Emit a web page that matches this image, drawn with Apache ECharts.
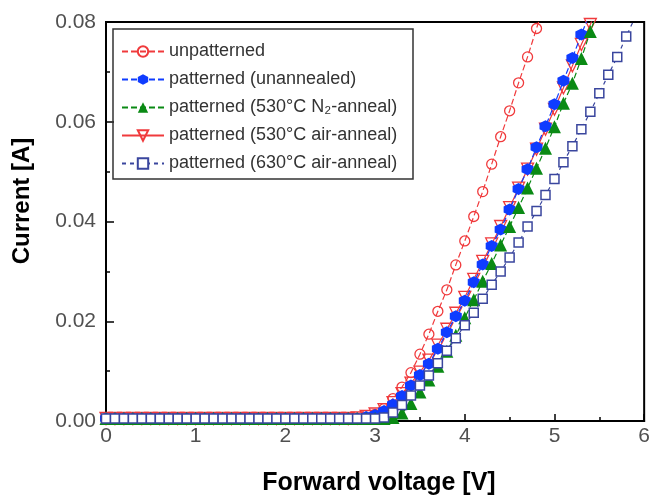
<!DOCTYPE html>
<html>
<head>
<meta charset="utf-8">
<script src="https://cdn.jsdelivr.net/npm/echarts@6/dist/echarts.min.js"></script>
<style>
html,body{margin:0;padding:0;background:#fff;}
#chart{width:653px;height:498px;}
</style>
</head>
<body>
<div id="chart"></div>
<script>
// ---- data ----
const volts = [0.0,0.1,0.2,0.3,0.4,0.5,0.6,0.7,0.8,0.9,
               1.0,1.1,1.2,1.3,1.4,1.5,1.6,1.7,1.8,1.9,
               2.0,2.1,2.2,2.3,2.4,2.5,2.6,2.7,2.8,2.9,
               3.0,3.1,3.2,3.3,3.4,3.5,3.6,3.7,3.8,3.9,
               4.0,4.1,4.2,4.3,4.4,4.5,4.6,4.7,4.8,4.9,
               5.0,5.1,5.2,5.3,5.4,5.5,5.6,5.7,5.8,5.9];

const seriesNames = ['unpatterned','patterned (unannealed)','patterned (530°C N₂-anneal)','patterned (530°C air-anneal)','patterned (630°C air-anneal)'];

const unpatterned = [0.0005,0.0005,0.0005,0.0005,0.0005,0.0005,0.0005,0.0005,0.0005,0.0005,
                     0.0005,0.0005,0.0005,0.0005,0.0005,0.0005,0.0005,0.0005,0.0005,0.0005,
                     0.0005,0.0005,0.0005,0.0005,0.0005,0.0005,0.0005,0.0005,0.0005,0.0007,
                     0.0013,0.0025,0.0045,0.0068,0.0097,0.0134,0.0174,0.0220,0.0263,0.0313,
                     0.0361,0.0410,0.0460,0.0515,0.0570,0.0622,0.0678,0.0730,0.0787,0.0845,
                     null,null,null,null,null,null,null,null,null,null];

const unannealed = [0.0005,0.0005,0.0005,0.0005,0.0005,0.0005,0.0005,0.0005,0.0005,0.0005,
                    0.0005,0.0005,0.0005,0.0005,0.0005,0.0005,0.0005,0.0005,0.0005,0.0005,
                    0.0005,0.0005,0.0005,0.0005,0.0005,0.0005,0.0005,0.0005,0.0005,0.0008,
                    0.0012,0.0020,0.0033,0.0050,0.0071,0.0092,0.0115,0.0145,0.0178,0.0210,
                    0.0241,0.0278,0.0314,0.0351,0.0384,0.0424,0.0465,0.0505,0.0549,0.0591,
                    0.0635,0.0682,0.0728,0.0775,0.0820,null,null,null,null,null];

const n2Anneal = [0.0005,0.0005,0.0005,0.0005,0.0005,0.0005,0.0005,0.0005,0.0005,0.0005,
                  0.0005,0.0005,0.0005,0.0005,0.0005,0.0005,0.0005,0.0005,0.0005,0.0005,
                  0.0005,0.0005,0.0005,0.0005,0.0005,0.0005,0.0005,0.0005,0.0005,0.0005,
                  0.0005,0.0005,0.0007,0.0016,0.0035,0.0058,0.0082,0.0110,0.0140,0.0172,
                  0.0207,0.0243,0.0280,0.0316,0.0353,0.0390,0.0428,0.0467,0.0507,0.0547,
                  0.0590,0.0637,0.0677,0.0727,0.0781,0.0830,null,null,null,null];

const air530 = [0.0005,0.0005,0.0005,0.0005,0.0005,0.0005,0.0005,0.0005,0.0005,0.0005,
                0.0005,0.0005,0.0005,0.0005,0.0005,0.0005,0.0005,0.0005,0.0005,0.0005,
                0.0005,0.0005,0.0005,0.0005,0.0005,0.0005,0.0005,0.0005,0.0006,0.0009,
                0.0014,0.0023,0.0037,0.0055,0.0076,0.0098,0.0122,0.0152,0.0184,0.0216,
                0.0248,0.0284,0.0320,0.0355,0.0390,0.0428,0.0467,0.0505,0.0545,0.0585,
                0.0625,0.0668,0.0712,0.0755,0.0795,0.0840,null,null,null,null];

const air630 = [0.0005,0.0005,0.0005,0.0005,0.0005,0.0005,0.0005,0.0005,0.0005,0.0005,
                0.0005,0.0005,0.0005,0.0005,0.0005,0.0005,0.0005,0.0005,0.0005,0.0005,
                0.0005,0.0005,0.0005,0.0005,0.0005,0.0005,0.0005,0.0005,0.0005,0.0005,
                0.0005,0.0007,0.0017,0.0032,0.0051,0.0071,0.0091,0.0116,0.0141,0.0166,
                0.0192,0.0217,0.0245,0.0273,0.0300,0.0328,0.0358,0.0390,0.0421,0.0453,
                0.0485,0.0519,0.0551,0.0585,0.0620,0.0657,0.0694,0.0730,0.0771,0.0810];

const xTickLabels = ['0','1','2','3','4','5','6'];
const yTickLabels = ['0.00','0.02','0.04','0.06','0.08'];

// ---- chart ----
function pairs(arr){
  const out = [];
  volts.forEach((v,i)=>{ if(arr[i] !== null) out.push([v, arr[i]]); });
  return out;
}
const FONT = '"Liberation Sans", Arial, sans-serif';
const RED = '#f03a3c', BLUE = '#0f3cff', GREEN = '#0a8a14', NAVY = '#3a469e';
const hexPath = 'path://M0,-10 L8.66,-5 L8.66,5 L0,10 L-8.66,5 L-8.66,-5Z';

const chart = echarts.init(document.getElementById('chart'), null, {renderer:'canvas'});
chart.setOption({
  animation: false,
  backgroundColor: '#fff',
  grid: {left:106, right:4, top:22, bottom:77, show:true, borderColor:'#000', borderWidth:2, backgroundColor:'transparent'},
  xAxis: {
    type:'value', min:0, max:6, interval:1,
    axisLine:{show:true, lineStyle:{color:'#000', width:2}},
    axisTick:{show:true, inside:true, length:7, lineStyle:{color:'#000', width:1.5}},
    minorTick:{show:true, splitNumber:2, length:4, lineStyle:{color:'#000', width:1.5}},
    splitLine:{show:false},
    axisLabel:{fontFamily:FONT, fontSize:21, color:'#505050', margin:5,
      formatter:(v)=>{ const i = Math.round(v); return xTickLabels[i] !== undefined ? xTickLabels[i] : ''; }}
  },
  yAxis: {
    type:'value', min:0, max:0.08, interval:0.02,
    axisLine:{show:true, lineStyle:{color:'#000', width:2}},
    axisTick:{show:true, inside:true, length:8, lineStyle:{color:'#000', width:1.5}},
    minorTick:{show:true, splitNumber:2, length:4, lineStyle:{color:'#000', width:1.5}},
    splitLine:{show:false},
    axisLabel:{fontFamily:FONT, fontSize:21, color:'#505050', margin:10,
      formatter:(v)=>{ const i = Math.round(v/0.02); return yTickLabels[i] !== undefined ? yTickLabels[i] : ''; }}
  },
  legend: {
    orient:'vertical', left:121, top:42, padding:0,
    itemWidth:42, itemHeight:13, itemGap:9,
    data: seriesNames,
    textStyle:{fontFamily:FONT, fontSize:18, color:'#333', lineHeight:19}
  },
  graphic: [
    {type:'rect', shape:{x:113, y:29, width:300, height:150}, style:{fill:'none', stroke:'#333', lineWidth:1.5}, z:100},
    {type:'text', x:379, y:483, style:{text:'Forward voltage [V]', font:'bold 25px "Liberation Sans", Arial, sans-serif', fill:'#000', textAlign:'center', textVerticalAlign:'middle'}},
    {type:'text', x:22, y:201, rotation:Math.PI/2, style:{text:'Current [A]', font:'bold 24px "Liberation Sans", Arial, sans-serif', fill:'#000', textAlign:'center', textVerticalAlign:'middle'}}
  ],
  series: [
    {name:seriesNames[0], type:'line', z:2, data:pairs(unpatterned), symbol:'circle', symbolSize:10,
     lineStyle:{color:RED, width:1.2, type:[6,3]}, itemStyle:{color:'rgba(255,255,255,0)', borderColor:RED, borderWidth:1.3}},
    {name:seriesNames[1], type:'line', z:4, data:pairs(unannealed), symbol:hexPath, symbolSize:12,
     lineStyle:{color:BLUE, width:1.2, type:[6,3]}, itemStyle:{color:BLUE, borderColor:BLUE, borderWidth:0}},
    {name:seriesNames[2], type:'line', z:5, data:pairs(n2Anneal), symbol:'triangle', symbolSize:13,
     lineStyle:{color:GREEN, width:1.2, type:[6,3]}, itemStyle:{color:GREEN, borderColor:GREEN, borderWidth:0}},
    {name:seriesNames[3], type:'line', z:3, data:pairs(air530), symbol:'triangle', symbolRotate:180, symbolSize:12,
     lineStyle:{color:RED, width:1.2}, itemStyle:{color:'rgba(255,255,255,0)', borderColor:RED, borderWidth:1.3}},
    {name:seriesNames[4], type:'line', z:6, data:pairs(air630), symbol:'rect', symbolSize:9,
     lineStyle:{color:NAVY, width:1.2, type:[4,4]}, itemStyle:{color:'#fff', borderColor:NAVY, borderWidth:1.5}}
  ]
});
</script>
</body>
</html>
